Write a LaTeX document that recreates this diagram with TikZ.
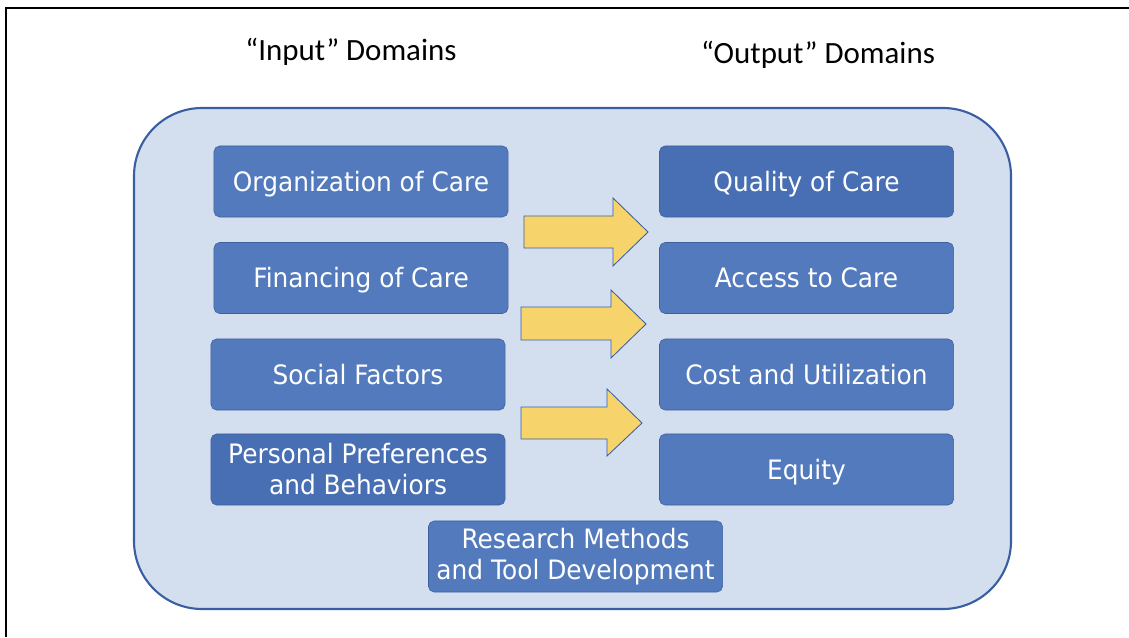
\documentclass[tikz,border=0pt]{standalone}
\usepackage{fontspec}
\setmainfont{Carlito}
\newfontfamily\boxfont[FakeStretch=0.93]{DejaVu Sans}
\usetikzlibrary{positioning}

\definecolor{panelfill}{RGB}{211,222,238}
\definecolor{paneldraw}{RGB}{58,95,160}
\definecolor{boxfill}{RGB}{83,122,188}
\definecolor{boxdark}{RGB}{72,111,180}
\definecolor{boxdraw}{RGB}{62,96,158}
\definecolor{arrowfill}{RGB}{247,211,108}

\tikzset{
 domainbox/.style={draw=boxdraw,fill=boxfill,rounded corners=4pt,minimum width=7.35cm,minimum height=1.775cm,
  text=white,align=center,inner sep=0pt,font=\boxfont\fontsize{19}{22}\selectfont},
 darkbox/.style={domainbox,fill=boxdark},
 oneline/.style={text height=13.9pt,text depth=0pt},
 heading/.style={font=\fontsize{22}{26}\selectfont},
 blockarrow/.style={draw=paneldraw,fill=arrowfill,line width=0.6pt}
}

\begin{document}
\begin{tikzpicture}[x=0.025cm,y=-0.025cm]
 \useasboundingbox (0,0) rectangle (1129,637);
 \draw[line width=1.4pt](6,637)--(6,8)--(1129,8);
 \draw[draw=paneldraw,fill=panelfill,line width=1.5pt,rounded corners=1.7cm](134,108) rectangle (1011,609);
 \node[heading] (inhead) at (351,52) {“Input” Domains};
 \node[heading] (outhead) at (818,55) {“Output” Domains};
 \node[domainbox,oneline] (organization) at (361,181.5) {Organization of Care};
 \node[domainbox,oneline] (financing) at (361,278) {Financing of Care};
 \node[domainbox,oneline] (social) at (358,374.5) {Social Factors};
 \node[darkbox] (personal) at (358,469.5) {Personal Preferences\\and Behaviors};
 \node[darkbox,oneline] (quality) at (806.5,181.5) {Quality of Care};
 \node[domainbox,oneline] (access) at (806.5,278) {Access to Care};
 \node[domainbox,oneline] (cost) at (806.5,374.5) {Cost and Utilization};
 \node[domainbox,oneline] (equity) at (806.5,469.5) {Equity};
 \node[domainbox] (research) at (575.5,556.5) {Research Methods\\and Tool Development};
 \draw[blockarrow](524,216)--(613,216)--(613,198)--(648,232)--(613,266)--(613,248)--(524,248)--cycle;
 \draw[blockarrow](521,307)--(611,307)--(611,290)--(646,324)--(611,358)--(611,340)--(521,340)--cycle;
 \draw[blockarrow](521,407)--(607,407)--(607,389)--(642,423)--(607,456)--(607,439)--(521,439)--cycle;
\end{tikzpicture}
\end{document}
